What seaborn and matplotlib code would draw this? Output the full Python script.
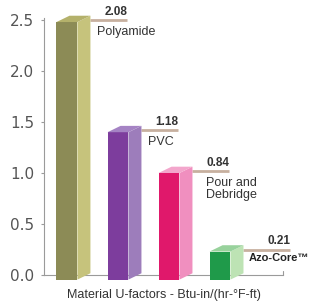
import matplotlib
matplotlib.use("Agg")
import matplotlib.pyplot as plt
import seaborn as sns
import pandas as pd
from matplotlib.patches import Polygon

# ==========================================
# DATA
# ==========================================
materials = ["Polyamide", "PVC", "Pour and\nDebridge", "Azo-Core\u2122"]
bar_heights = [2.48, 1.40, 1.00, 0.23]      # drawn heights as seen on the picture
u_factors = ["2.08", "1.18", "0.84", "0.21"]  # printed values
front_colors = ["#8c8b56", "#7d3d9d", "#e0186b", "#1f9a4a"]
side_colors = ["#c6c37c", "#9d7dbb", "#f08fbf", "#bde3b4"]
top_colors = ["#b4b16b", "#a583c4", "#f3a6cc", "#98d29c"]
y_ticks = [0.0, 0.5, 1.0, 1.5, 2.0, 2.5]

df = pd.DataFrame({"material": materials, "height": bar_heights})

# ==========================================
# FIGURE
# ==========================================
sns.set_style("white")
plt.rcParams["font.family"] = ["DejaVu Sans"]

fig = plt.figure(figsize=(3.17, 3.06), dpi=100)
ax = fig.add_axes([0.1388, 0.1013, 0.754, 0.84])

bar_w = 0.41
sns.barplot(data=df, x="material", y="height", hue="material", palette=front_colors,
            width=bar_w, legend=False, ax=ax, saturation=1, zorder=3)

base = -0.045
side_w = 0.255
depth = 0.062
line_len = 0.72
line_col = "#c7b09f"

for i, p in enumerate(ax.patches):
    h = p.get_height()
    x0 = p.get_x()
    x1 = x0 + p.get_width()
    p.set_y(base)
    p.set_height(h - base)
    p.set_clip_on(False)
    p.set_edgecolor("none")
    side = Polygon([(x1, base), (x1 + side_w, base + depth), (x1 + side_w, h + depth), (x1, h)],
                   closed=True, facecolor=side_colors[i], edgecolor="none", zorder=3, clip_on=False)
    top = Polygon([(x0, h), (x1, h), (x1 + side_w, h + depth), (x0 + side_w, h + depth)],
                  closed=True, facecolor=top_colors[i], edgecolor="none", zorder=3, clip_on=False)
    ax.add_patch(side)
    ax.add_patch(top)

    # leader line with value and name
    lx0 = x1 + side_w
    lx1 = lx0 + line_len + (0.2 if i == 3 else 0)
    ly = h + 0.02
    ax.plot([lx0, lx1], [ly, ly], color=line_col, lw=2, solid_capstyle="butt",
            zorder=2, clip_on=False)
    ax.annotate(u_factors[i], (lx1, ly), xytext=(0, 1.5), textcoords="offset points",
                ha="right", va="bottom", fontsize=8.5, fontweight="bold", color="#333333",
                family=["Liberation Sans", "DejaVu Sans"], annotation_clip=False)
    if i == 3:
        ax.annotate(materials[i], (lx0, ly), xytext=(3.5, -2.5), textcoords="offset points",
                    ha="left", va="top", fontsize=8, fontweight="bold", color="#222222",
                    family=["Liberation Sans Narrow", "Liberation Sans", "DejaVu Sans"],
                    annotation_clip=False)
    else:
        dx = 10 if i == 2 else 4.5
        ax.annotate(materials[i], (lx0, ly), xytext=(dx, -4), textcoords="offset points",
                    ha="left", va="top", fontsize=9, color="#333333", linespacing=1.05,
                    family=["Liberation Sans", "DejaVu Sans"], annotation_clip=False)

# little end tick of the base line
ax.plot([4.235, 4.235], [0, 0.04], color="#9a9a9a", lw=0.8, clip_on=False)

ax.set_xlim(-0.45, 4.235)
ax.set_ylim(0, 2.52)
ax.set_yticks(y_ticks)
ax.set_yticklabels([f"{v:.1f}" for v in y_ticks])
ax.tick_params(axis="y", length=2, width=0.8, color="#9a9a9a", pad=5,
               labelsize=11, labelcolor="#555555", left=True)
ax.tick_params(axis="x", length=0, labelbottom=False)

for s in ["top", "right"]:
    ax.spines[s].set_visible(False)
for s in ["left", "bottom"]:
    ax.spines[s].set_color("#9a9a9a")
    ax.spines[s].set_linewidth(0.8)
    ax.spines[s].set_zorder(1)

ax.set_ylabel("")
ax.set_xlabel("Material U-factors - Btu-in/(hr-\u00b0F-ft)", fontsize=9, color="#333333",
              labelpad=10, family=["Liberation Sans Narrow", "Liberation Sans", "DejaVu Sans"])

fig.savefig("out.png", dpi=100)
